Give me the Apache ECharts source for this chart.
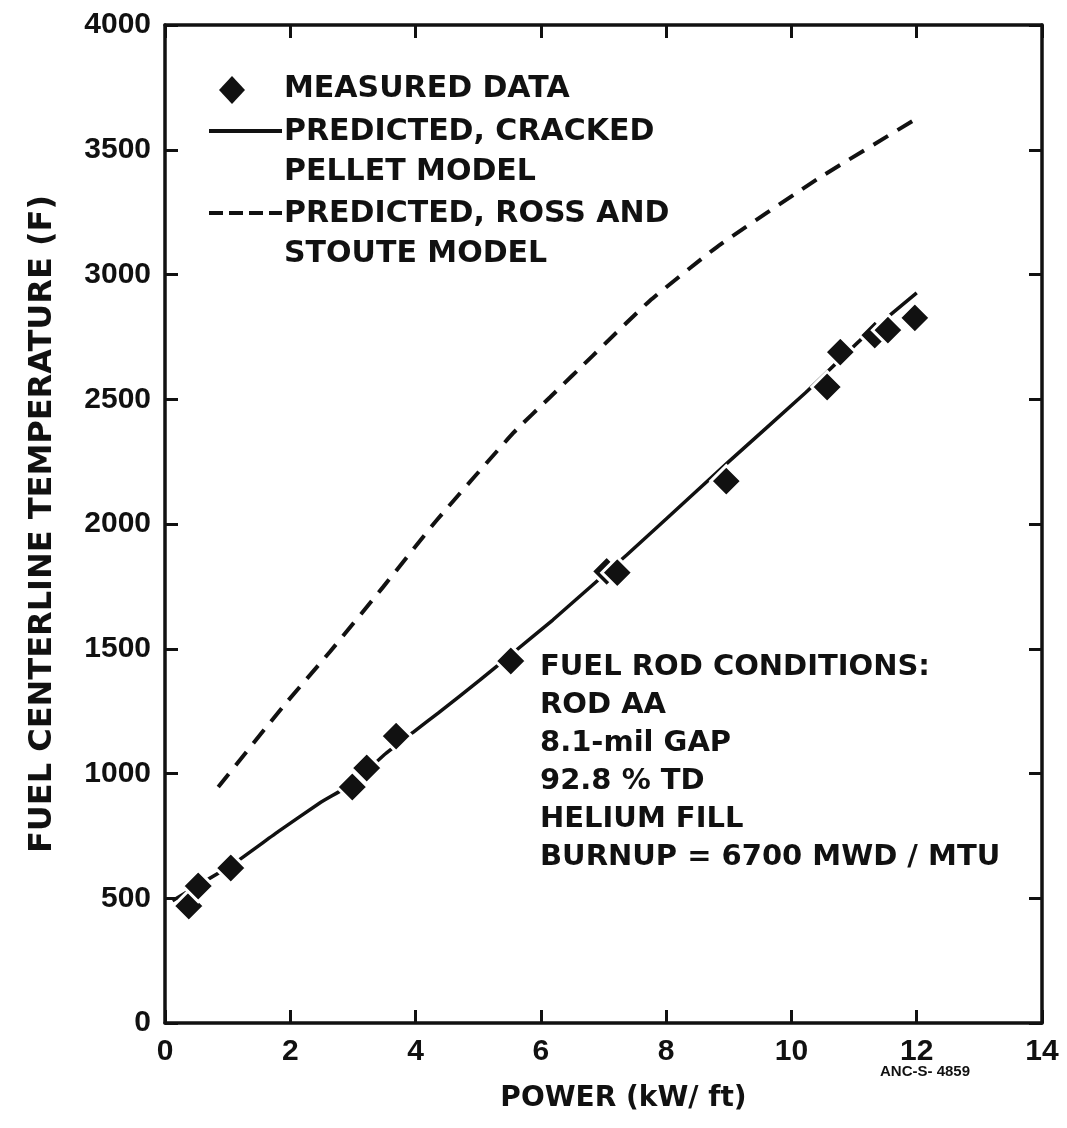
<!DOCTYPE html>
<html>
<head>
<meta charset="utf-8">
<script src="https://cdn.jsdelivr.net/npm/echarts@6/dist/echarts.min.js"></script>
<style>
html,body{margin:0;padding:0;background:#fff;}
#chart{width:1067px;height:1128px;}
</style>
</head>
<body>
<div id="chart"></div>
<script>
// ---- data ----
const xTicks = [0, 2, 4, 6, 8, 10, 12, 14];
const yTicks = [0, 500, 1000, 1500, 2000, 2500, 3000, 3500, 4000];

const measuredX = [0.38, 0.53, 1.05, 2.99, 3.22, 3.69, 5.52, 7.05, 7.22, 8.96, 10.57, 10.78, 11.33, 11.54, 11.97];
const measuredY = [469, 549, 621, 946, 1022, 1150, 1451, 1810, 1805, 2172, 2549, 2689, 2757, 2777, 2826];

const crackedX = [0.12, 0.5, 1.05, 1.8, 2.47, 3.0, 3.5, 3.96, 4.36, 5.03, 5.5, 6.19, 7.37, 8.0, 9.0, 10.22, 11.1, 12.0];
const crackedY = [490, 548, 630, 766, 882, 960, 1075, 1165, 1242, 1375, 1472, 1615, 1876, 2020, 2250, 2525, 2737, 2926];

const rossX = [0.85, 1.88, 2.63, 3.48, 4.34, 5.56, 6.15, 6.83, 7.74, 8.81, 10.43, 11.96];
const rossY = [946, 1267, 1487, 1747, 2016, 2365, 2509, 2675, 2895, 3110, 3385, 3619];

const legendLabels = ['MEASURED DATA', 'PREDICTED, CRACKED\nPELLET MODEL', 'PREDICTED, ROSS AND\nSTOUTE MODEL'];
const conditionsText = ['FUEL ROD CONDITIONS:', 'ROD AA', '8.1-mil GAP', '92.8 % TD', 'HELIUM FILL', 'BURNUP = 6700 MWD / MTU'];
const xTitle = 'POWER (kW/ ft)';
const yTitle = 'FUEL CENTERLINE TEMPERATURE (F)';
const figId = 'ANC-S- 4859';

// ---- build ----
const pair = (xs, ys) => xs.map((x, i) => [x, ys[i]]);
const FONT = '"Liberation Sans", Arial, sans-serif';
const WIDE = '"DejaVu Sans", sans-serif';
const INK = '#111';

const chart = echarts.init(document.getElementById('chart'), null, {renderer: 'canvas'});

const axisLineStyle = {show: true, onZero: false, lineStyle: {color: INK, width: 3.5}};
const tickStyle = {show: true, inside: true, length: 13, lineStyle: {color: INK, width: 3}};

const option = {
  backgroundColor: '#fff',
  animation: false,
  grid: {left: 165, right: 25, top: 25, bottom: 105, containLabel: false},
  xAxis: [
    {
      type: 'value', min: xTicks[0], max: xTicks[xTicks.length - 1], interval: 2,
      position: 'bottom',
      axisLine: axisLineStyle, axisTick: tickStyle, splitLine: {show: false},
      axisLabel: {color: INK, fontFamily: FONT, fontSize: 30, fontWeight: 'bold', margin: 14,
                  formatter: v => String(v)},
      name: xTitle, nameLocation: 'middle', nameGap: 62,
      nameTextStyle: {color: INK, fontFamily: WIDE, fontSize: 28, fontWeight: 'bold', padding: [0, 0, 0, 40]}
    },
    {
      type: 'value', min: xTicks[0], max: xTicks[xTicks.length - 1], interval: 2,
      position: 'top',
      axisLine: axisLineStyle, axisTick: tickStyle, splitLine: {show: false},
      axisLabel: {show: false}
    }
  ],
  yAxis: [
    {
      type: 'value', min: yTicks[0], max: yTicks[yTicks.length - 1], interval: 500,
      position: 'left',
      axisLine: axisLineStyle, axisTick: tickStyle, splitLine: {show: false},
      axisLabel: {color: INK, fontFamily: FONT, fontSize: 30, fontWeight: 'bold', margin: 14,
                  formatter: v => String(v)},
      name: yTitle, nameLocation: 'middle', nameGap: 106, nameRotate: 90,
      nameTextStyle: {color: INK, fontFamily: WIDE, fontSize: 32, fontWeight: 'bold'}
    },
    {
      type: 'value', min: yTicks[0], max: yTicks[yTicks.length - 1], interval: 500,
      position: 'right',
      axisLine: axisLineStyle, axisTick: tickStyle, splitLine: {show: false},
      axisLabel: {show: false}
    }
  ],
  series: [
    {
      name: 'ross', type: 'line', xAxisIndex: 0, yAxisIndex: 0,
      data: pair(rossX, rossY), showSymbol: false, smooth: 0.15,
      lineStyle: {color: INK, width: 4, type: [17, 11]}, z: 2
    },
    {
      name: 'cracked', type: 'line', xAxisIndex: 0, yAxisIndex: 0,
      data: pair(crackedX, crackedY), showSymbol: false, smooth: 0.08,
      lineStyle: {color: INK, width: 3.5}, z: 2
    },
    {
      name: 'measured', type: 'scatter', xAxisIndex: 0, yAxisIndex: 0,
      data: pair(measuredX, measuredY), symbol: 'diamond', symbolSize: [31, 31],
      itemStyle: {color: INK, borderColor: '#fff', borderWidth: 3, opacity: 1}, z: 5
    }
  ],
  graphic: [
    // legend
    {type: 'polygon', shape: {points: [[232, 76], [245, 90], [232, 104], [219, 90]]}, style: {fill: INK}},
    {type: 'text', left: 284, top: 74, style: {text: legendLabels[0], font: 'bold 30px ' + WIDE, fill: INK}},
    {type: 'line', shape: {x1: 209, y1: 131, x2: 282, y2: 131}, style: {stroke: INK, lineWidth: 4}},
    {type: 'text', left: 284, top: 112, style: {text: legendLabels[1], font: 'bold 30px ' + WIDE, fill: INK, lineHeight: 40}},
    {type: 'line', shape: {x1: 209, y1: 213, x2: 282, y2: 213}, style: {stroke: INK, lineWidth: 4, lineDash: [14, 6]}},
    {type: 'text', left: 284, top: 194, style: {text: legendLabels[2], font: 'bold 30px ' + WIDE, fill: INK, lineHeight: 40}},
    // conditions block
    {type: 'text', left: 540, top: 648, style: {text: conditionsText.join('\n'), font: 'bold 29px ' + WIDE, fill: INK, lineHeight: 38}},
    // figure id
    {type: 'text', left: 880, top: 1064, style: {text: figId, font: 'bold 15px ' + FONT, fill: INK}}
  ]
};

chart.setOption(option);
</script>
</body>
</html>
